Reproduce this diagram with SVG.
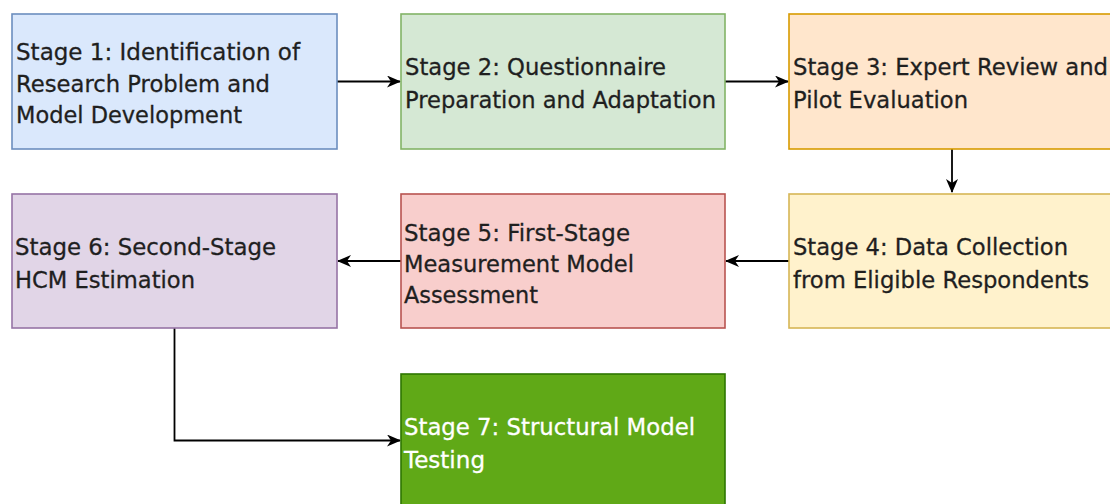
<svg xmlns="http://www.w3.org/2000/svg" width="1110" height="504" viewBox="0 0 1110 504">
  <style>
    .box { stroke-width: 1.6; }
    .lbl { font-family: "DejaVu Sans", "Liberation Sans", sans-serif; font-size: 23px; fill: #1f1f1f; stroke: #1f1f1f; stroke-width: 0.3; }
    .lbl-w { fill: #ffffff; stroke: #ffffff; }
    .edge { fill: none; stroke: #000000; stroke-width: 1.8; }
  </style>
  <defs>
    <marker id="arrow" viewBox="0 0 14 12" refX="13" refY="6" markerWidth="14" markerHeight="12" markerUnits="userSpaceOnUse" orient="auto">
      <path d="M0,0 L14,6 L0,12 L4,6 Z" fill="#000000"/>
    </marker>
  </defs>

  <rect width="1110" height="504" fill="#ffffff"/>

  <g id="connectors">
    <path class="edge" d="M337,81.5 H400" marker-end="url(#arrow)"/>
    <path class="edge" d="M725,81.5 H788" marker-end="url(#arrow)"/>
    <path class="edge" d="M952,149 V192" marker-end="url(#arrow)"/>
    <path class="edge" d="M789,261 H726" marker-end="url(#arrow)"/>
    <path class="edge" d="M401,261 H338" marker-end="url(#arrow)"/>
    <path class="edge" d="M174.5,328 V440.5 H400" marker-end="url(#arrow)"/>
  </g>

  <g id="stage1">
    <rect class="box" x="12" y="14" width="325" height="135" fill="#dae8fc" stroke="#6c8ebf"/>
    <text class="lbl" x="16" y="60" textLength="284" lengthAdjust="spacingAndGlyphs">Stage 1: Identification of</text>
    <text class="lbl" x="16" y="92" textLength="254" lengthAdjust="spacingAndGlyphs">Research Problem and</text>
    <text class="lbl" x="16" y="123" textLength="226" lengthAdjust="spacingAndGlyphs">Model Development</text>
  </g>

  <g id="stage2">
    <rect class="box" x="401" y="14" width="324" height="135" fill="#d5e8d4" stroke="#82b366"/>
    <text class="lbl" x="405" y="75" textLength="261" lengthAdjust="spacingAndGlyphs">Stage 2: Questionnaire</text>
    <text class="lbl" x="405" y="108" textLength="311" lengthAdjust="spacingAndGlyphs">Preparation and Adaptation</text>
  </g>

  <g id="stage3">
    <rect class="box" x="789" y="14" width="325" height="135" fill="#ffe6cc" stroke="#d79b00"/>
    <text class="lbl" x="793" y="75" textLength="315" lengthAdjust="spacingAndGlyphs">Stage 3: Expert Review and</text>
    <text class="lbl" x="793" y="108" textLength="175" lengthAdjust="spacingAndGlyphs">Pilot Evaluation</text>
  </g>

  <g id="stage4">
    <rect class="box" x="789" y="194" width="325" height="134" fill="#fff2cc" stroke="#d6b656"/>
    <text class="lbl" x="793" y="255" textLength="275" lengthAdjust="spacingAndGlyphs">Stage 4: Data Collection</text>
    <text class="lbl" x="793" y="288" textLength="296" lengthAdjust="spacingAndGlyphs">from Eligible Respondents</text>
  </g>

  <g id="stage5">
    <rect class="box" x="401" y="194" width="324" height="134" fill="#f8cecc" stroke="#b85450"/>
    <text class="lbl" x="404" y="241" textLength="226" lengthAdjust="spacingAndGlyphs">Stage 5: First-Stage</text>
    <text class="lbl" x="404" y="272" textLength="230" lengthAdjust="spacingAndGlyphs">Measurement Model</text>
    <text class="lbl" x="404" y="303" textLength="134" lengthAdjust="spacingAndGlyphs">Assessment</text>
  </g>

  <g id="stage6">
    <rect class="box" x="12" y="194" width="325" height="134" fill="#e1d5e7" stroke="#9673a6"/>
    <text class="lbl" x="15" y="255" textLength="261" lengthAdjust="spacingAndGlyphs">Stage 6: Second-Stage</text>
    <text class="lbl" x="15" y="288" textLength="180" lengthAdjust="spacingAndGlyphs">HCM Estimation</text>
  </g>

  <g id="stage7">
    <rect class="box" x="401" y="374" width="324" height="135" fill="#60a917" stroke="#2d7600"/>
    <text class="lbl lbl-w" x="404" y="435" textLength="291" lengthAdjust="spacingAndGlyphs">Stage 7: Structural Model</text>
    <text class="lbl lbl-w" x="404" y="468" textLength="81" lengthAdjust="spacingAndGlyphs">Testing</text>
  </g>
</svg>
